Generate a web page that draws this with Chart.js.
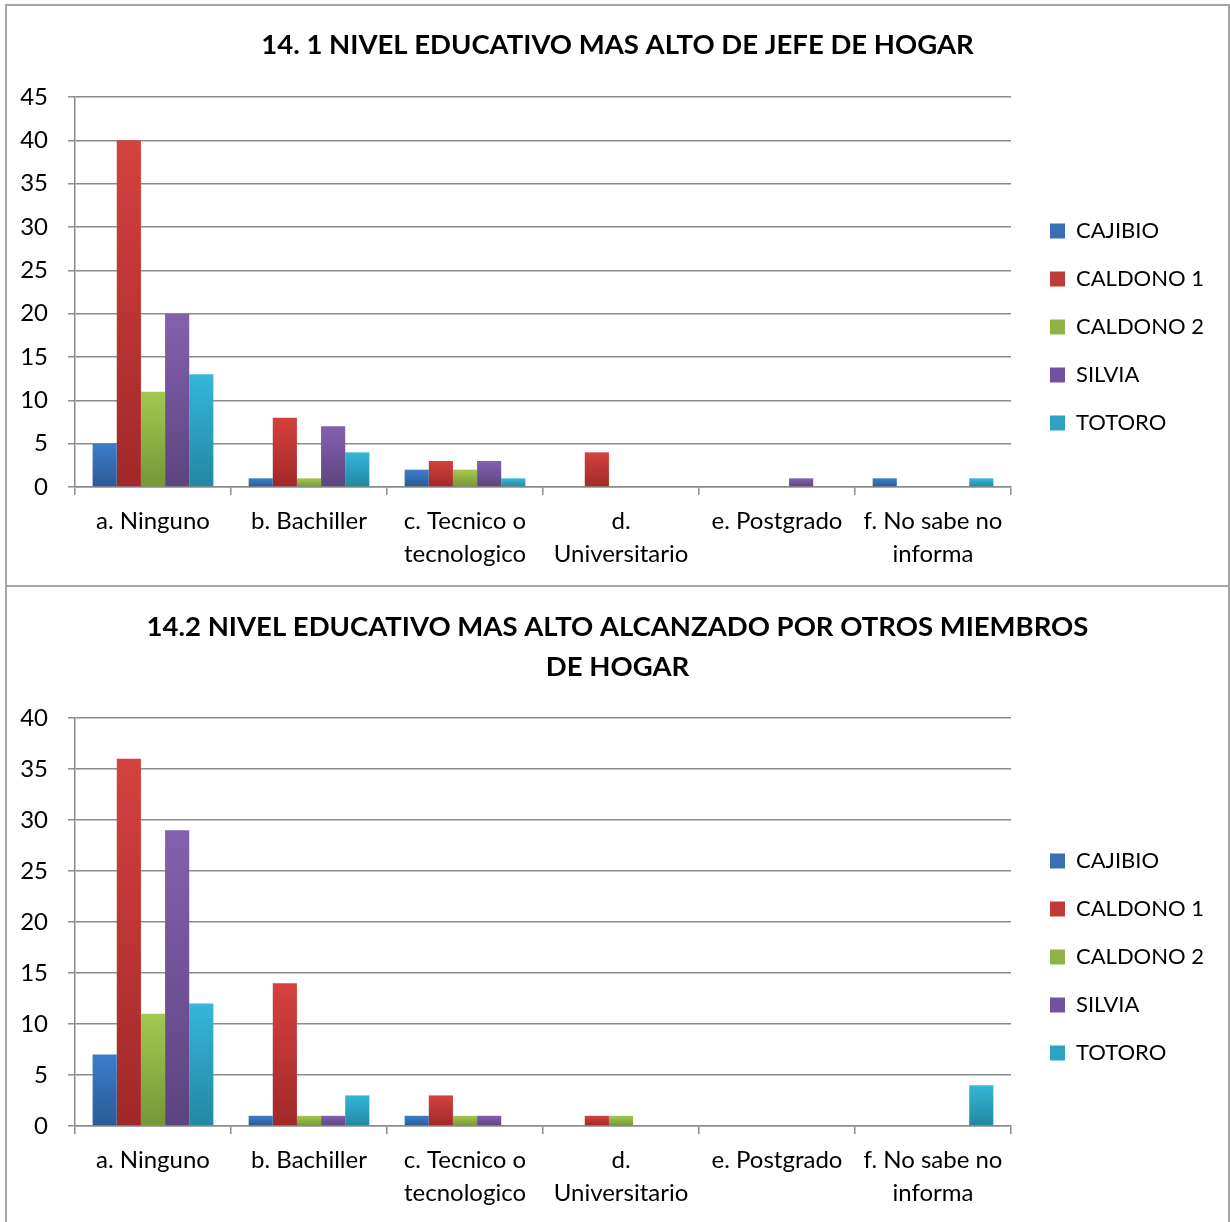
<!DOCTYPE html>
<html lang="es">
<head>
<meta charset="UTF-8">
<title>Nivel educativo</title>
<script src="https://cdn.jsdelivr.net/npm/chart.js"></script>
<style>
  body { margin: 0; background: #fff; overflow: hidden; }
  .panel { position: absolute; left: 5px; width: 1225px; border: 2px solid #a6a6a6; border-bottom: none; box-sizing: border-box; background: #fff; }
  #panel1 { top: 4px; height: 581px; }
  #panel2 { top: 585px; height: 660px; }
  .wrap { position: relative; width: 1221px; }
  #panel1 .wrap { height: 579px; }
  #panel2 .wrap { height: 636px; }
</style>
</head>
<body>
  <div class="panel" id="panel1"><div class="wrap"><canvas id="graficoJefe"></canvas></div></div>
  <div class="panel" id="panel2"><div class="wrap"><canvas id="graficoOtros"></canvas></div></div>

<script>
  // categorias y series
  const categorias = ['a. Ninguno', 'b. Bachiller', ['c. Tecnico o', 'tecnologico'], ['d.', 'Universitario'], 'e. Postgrado', ['f. No sabe no', 'informa']];
  const series = ['CAJIBIO', 'CALDONO 1', 'CALDONO 2', 'SILVIA', 'TOTORO'];

  // 14.1 jefe de hogar
  const jefeCajibio = [5, 1, 2, 0, 0, 1];
  const jefeCaldono1 = [40, 8, 3, 4, 0, 0];
  const jefeCaldono2 = [11, 1, 2, 0, 0, 0];
  const jefeSilvia = [20, 7, 3, 0, 1, 0];
  const jefeTotoro = [13, 4, 1, 0, 0, 1];

  // 14.2 otros miembros
  const otrosCajibio = [7, 1, 1, 0, 0, 0];
  const otrosCaldono1 = [36, 14, 3, 1, 0, 0];
  const otrosCaldono2 = [11, 1, 1, 1, 0, 0];
  const otrosSilvia = [29, 1, 1, 0, 0, 0];
  const otrosTotoro = [12, 3, 0, 0, 0, 4];

  const claro = ['#3d7dcb', '#d4423f', '#a4c850', '#8461af', '#36b6da'];
  const oscuro = ['#2a5a95', '#a12828', '#779637', '#5c447f', '#2387a1'];
  const medio = ['#3a6fb5', '#c03a37', '#90b346', '#7054a0', '#2ea2c2'];

  const fuente = "Lato, 'Open Sans', sans-serif";

  function degradado(i) {
    return function (ctx) {
      if (ctx.type !== 'data') return medio[i];
      const chart = ctx.chart;
      const y = chart.scales.y;
      if (!y || !chart.chartArea) return medio[i];
      const top = y.getPixelForValue(ctx.raw);
      const base = y.getPixelForValue(0);
      if (!(base > top)) return medio[i];
      const g = chart.ctx.createLinearGradient(0, top, 0, base);
      g.addColorStop(0, claro[i]);
      g.addColorStop(1, oscuro[i]);
      return g;
    };
  }

  // coloca la leyenda donde esta en el original
  const ubicarLeyenda = {
    id: 'ubicarLeyenda',
    beforeLayout(chart, args, o) {
      const lg = chart.legend;
      if (lg && !lg._ajustada) {
        const fit = lg.fit;
        lg.fit = function () { fit.call(this); this.width = o.ancho; };
        lg._ajustada = true;
      }
    },
    afterLayout(chart, args, o) {
      const lg = chart.legend;
      const w = lg.width, h = lg.height;
      lg.left = o.x; lg.right = o.x + w;
      lg.top = o.y; lg.bottom = o.y + h;
    }
  };

  function crearGrafico(id, titulo, datos, maximo, tituloPad, leyendaY, padAbajo) {
    new Chart(document.getElementById(id), {
      type: 'bar',
      data: {
        labels: categorias,
        datasets: series.map((s, i) => ({
          label: s,
          data: datos[i],
          backgroundColor: degradado(i),
          borderWidth: 0,
          categoryPercentage: 0.774,
          barPercentage: 1
        }))
      },
      options: {
        responsive: true,
        maintainAspectRatio: false,
        animation: false,
        layout: { padding: { left: 0, right: 0, top: 0, bottom: padAbajo } },
        plugins: {
          title: {
            display: true,
            text: titulo,
            color: '#000',
            font: { family: fuente, size: 27.5, weight: 'bold', lineHeight: 1.4545 },
            padding: tituloPad
          },
          legend: {
            position: 'right',
            align: 'start',
            labels: {
              color: '#000',
              font: { family: fuente, size: 22 },
              boxWidth: 15,
              boxHeight: 15,
              padding: 26,
              generateLabels(chart) {
                const items = Chart.defaults.plugins.legend.labels.generateLabels(chart);
                items.forEach((it, i) => { it.fillStyle = medio[i]; it.lineWidth = 0; });
                return items;
              }
            }
          },
          tooltip: { enabled: false },
          ubicarLeyenda: { ancho: 217, x: 1017, y: leyendaY }
        },
        scales: {
          x: {
            grid: { display: true, drawOnChartArea: false, drawTicks: true, tickLength: 8, color: '#8c8c8c', lineWidth: 1.5, offset: true },
            border: { color: '#8c8c8c', width: 1.5 },
            ticks: { color: '#000', font: { family: fuente, size: 24, lineHeight: 1.375 }, padding: 10, maxRotation: 0, autoSkip: false }
          },
          y: {
            min: 0,
            max: maximo,
            afterFit(s) { s.width = 68; },
            grid: { color: '#8c8c8c', lineWidth: 1.5, tickLength: 7 },
            border: { color: '#8c8c8c', width: 1.5 },
            ticks: { stepSize: 5, color: '#000', font: { family: fuente, size: 24 }, padding: 20 }
          }
        }
      },
      plugins: [ubicarLeyenda]
    });
  }

  crearGrafico('graficoJefe', '14. 1 NIVEL EDUCATIVO MAS ALTO DE JEFE DE HOGAR',
    [jefeCajibio, jefeCaldono1, jefeCaldono2, jefeSilvia, jefeTotoro], 45,
    { top: 19, bottom: 32 }, 188, 4);

  crearGrafico('graficoOtros', ['14.2 NIVEL EDUCATIVO MAS ALTO ALCANZADO POR OTROS MIEMBROS', 'DE HOGAR'],
    [otrosCajibio, otrosCaldono1, otrosCaldono2, otrosSilvia, otrosTotoro], 40,
    { top: 20, bottom: 31 }, 237, 3);
</script>
</body>
</html>
